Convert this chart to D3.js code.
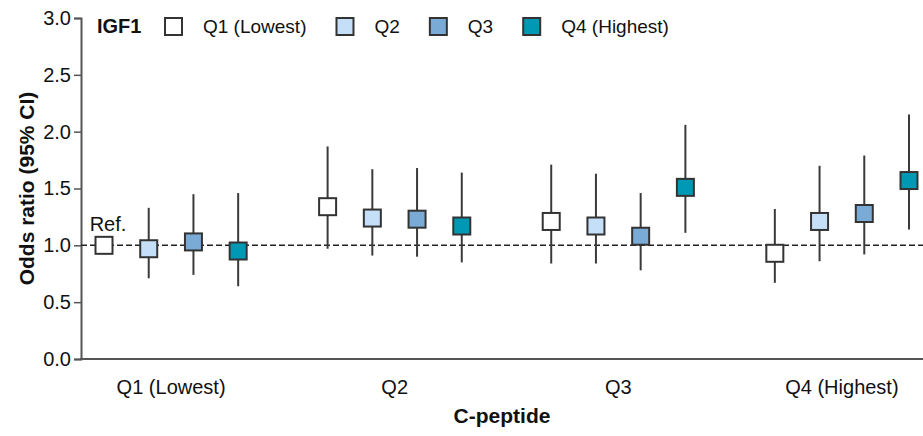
<!DOCTYPE html>
<html>
<head>
<meta charset="utf-8">
<script src="https://cdn.jsdelivr.net/npm/d3@7"></script>
<style>
  body { margin: 0; background: #fff; }
  text { font-family: "Liberation Sans", Arial, sans-serif; fill: #111; }
</style>
</head>
<body>
<div id="chart"></div>
<script>
// Categories (C-peptide quartiles on x, IGF1 quartiles as series)
const cpeptide = ["Q1 (Lowest)", "Q2", "Q3", "Q4 (Highest)"];
const igf1 = ["Q1 (Lowest)", "Q2", "Q3", "Q4 (Highest)"];
const colors = ["#ffffff", "#c5dff8", "#7aabd6", "#0099b5"];

// Odds ratios and 95% CI, one row per C-peptide quartile, one column per IGF1 quartile
const oddsRatio = [
  [1.00, 0.97, 1.03, 0.95],
  [1.34, 1.24, 1.23, 1.17],
  [1.21, 1.17, 1.08, 1.51],
  [0.93, 1.21, 1.28, 1.57]
];
const ciLower = [
  [null, 0.71, 0.74, 0.64],
  [0.97, 0.91, 0.90, 0.85],
  [0.84, 0.84, 0.78, 1.11],
  [0.67, 0.86, 0.92, 1.14]
];
const ciUpper = [
  [null, 1.33, 1.45, 1.46],
  [1.87, 1.67, 1.68, 1.64],
  [1.71, 1.63, 1.46, 2.06],
  [1.32, 1.70, 1.79, 2.15]
];
const yTicks = [0, 0.5, 1.0, 1.5, 2.0, 2.5, 3.0];

const width = 923, height = 436;
const plotLeft = 81, plotRight = 923, plotTop = 18, plotBottom = 359;
const boxSize = 17;

const svg = d3.select("#chart")
  .append("svg")
  .attr("width", width)
  .attr("height", height);

// Flatten into points: slot index = group*5 + series (gap of one slot between groups)
const points = [];
cpeptide.forEach((c, g) => {
  igf1.forEach((s, k) => {
    points.push({
      slot: g * 5 + k, series: k,
      or: oddsRatio[g][k], lo: ciLower[g][k], hi: ciUpper[g][k]
    });
  });
});

const x = d3.scaleLinear().domain([0, 18]).range([104, 909]);
const y = d3.scaleLinear().domain([0, 3]).range([plotBottom, plotTop]);

// Y axis
const yAxis = svg.append("g")
  .attr("transform", `translate(${plotLeft},0)`)
  .call(d3.axisLeft(y).tickValues(yTicks).tickFormat(d3.format(".1f")).tickSize(7).tickPadding(3));
yAxis.select(".domain").attr("stroke", "#555").attr("stroke-width", 2);
yAxis.selectAll(".tick line").attr("stroke", "#555").attr("stroke-width", 1.5);
yAxis.selectAll(".tick text")
  .style("font-size", "20px")
  .style("font-family", "'Liberation Sans', Arial, sans-serif")
  .attr("fill", "#111");

// X axis line
svg.append("line")
  .attr("x1", plotLeft - 1).attr("x2", plotRight)
  .attr("y1", y(0)).attr("y2", y(0))
  .attr("stroke", "#555").attr("stroke-width", 2);

// X category labels
svg.selectAll(".xlabel")
  .data(cpeptide)
  .enter()
  .append("text")
  .attr("class", "xlabel")
  .attr("x", (d, i) => x(i * 5 + 1.5))
  .attr("y", 394)
  .attr("text-anchor", "middle")
  .style("font-size", "20px")
  .text(d => d);

// Axis titles
svg.append("text")
  .attr("x", (plotLeft + plotRight) / 2)
  .attr("y", 423)
  .attr("text-anchor", "middle")
  .style("font-size", "21px")
  .style("font-weight", "bold")
  .text("C-peptide");

svg.append("text")
  .attr("transform", `translate(34,${(plotTop + plotBottom) / 2}) rotate(-90)`)
  .attr("text-anchor", "middle")
  .style("font-size", "21px")
  .style("font-weight", "bold")
  .text("Odds ratio (95% CI)");

// Reference line at OR = 1
svg.append("line")
  .attr("x1", plotLeft).attr("x2", plotRight)
  .attr("y1", y(1)).attr("y2", y(1))
  .attr("stroke", "#222").attr("stroke-width", 1.5)
  .attr("stroke-dasharray", "6,3");

// Whiskers
svg.selectAll(".ci")
  .data(points.filter(d => d.lo !== null))
  .enter()
  .append("line")
  .attr("class", "ci")
  .attr("x1", d => x(d.slot)).attr("x2", d => x(d.slot))
  .attr("y1", d => y(d.lo)).attr("y2", d => y(d.hi))
  .attr("stroke", "#3a3a3a").attr("stroke-width", 2);

// Boxes
svg.selectAll(".pt")
  .data(points)
  .enter()
  .append("rect")
  .attr("class", "pt")
  .attr("x", d => x(d.slot) - boxSize / 2)
  .attr("y", d => y(d.or) - boxSize / 2)
  .attr("width", boxSize).attr("height", boxSize)
  .attr("fill", d => colors[d.series])
  .attr("stroke", "#333").attr("stroke-width", 2);

// "Ref." label
svg.append("text")
  .attr("x", x(0) + 4)
  .attr("y", y(1) - 14)
  .attr("text-anchor", "middle")
  .style("font-size", "20px")
  .text("Ref.");

// Legend
const legend = svg.append("g");
legend.append("text")
  .attr("x", 97).attr("y", 33)
  .style("font-size", "20px")
  .style("font-weight", "bold")
  .text("IGF1");

let lx = 165;
igf1.forEach((name, i) => {
  legend.append("rect")
    .attr("x", lx).attr("y", 18)
    .attr("width", boxSize).attr("height", boxSize)
    .attr("fill", colors[i])
    .attr("stroke", "#333").attr("stroke-width", 2);
  const t = legend.append("text")
    .attr("x", lx + 38).attr("y", 33)
    .style("font-size", "19px")
    .text(name);
  lx = lx + 38 + t.node().getComputedTextLength() + 30;
});
</script>
</body>
</html>
